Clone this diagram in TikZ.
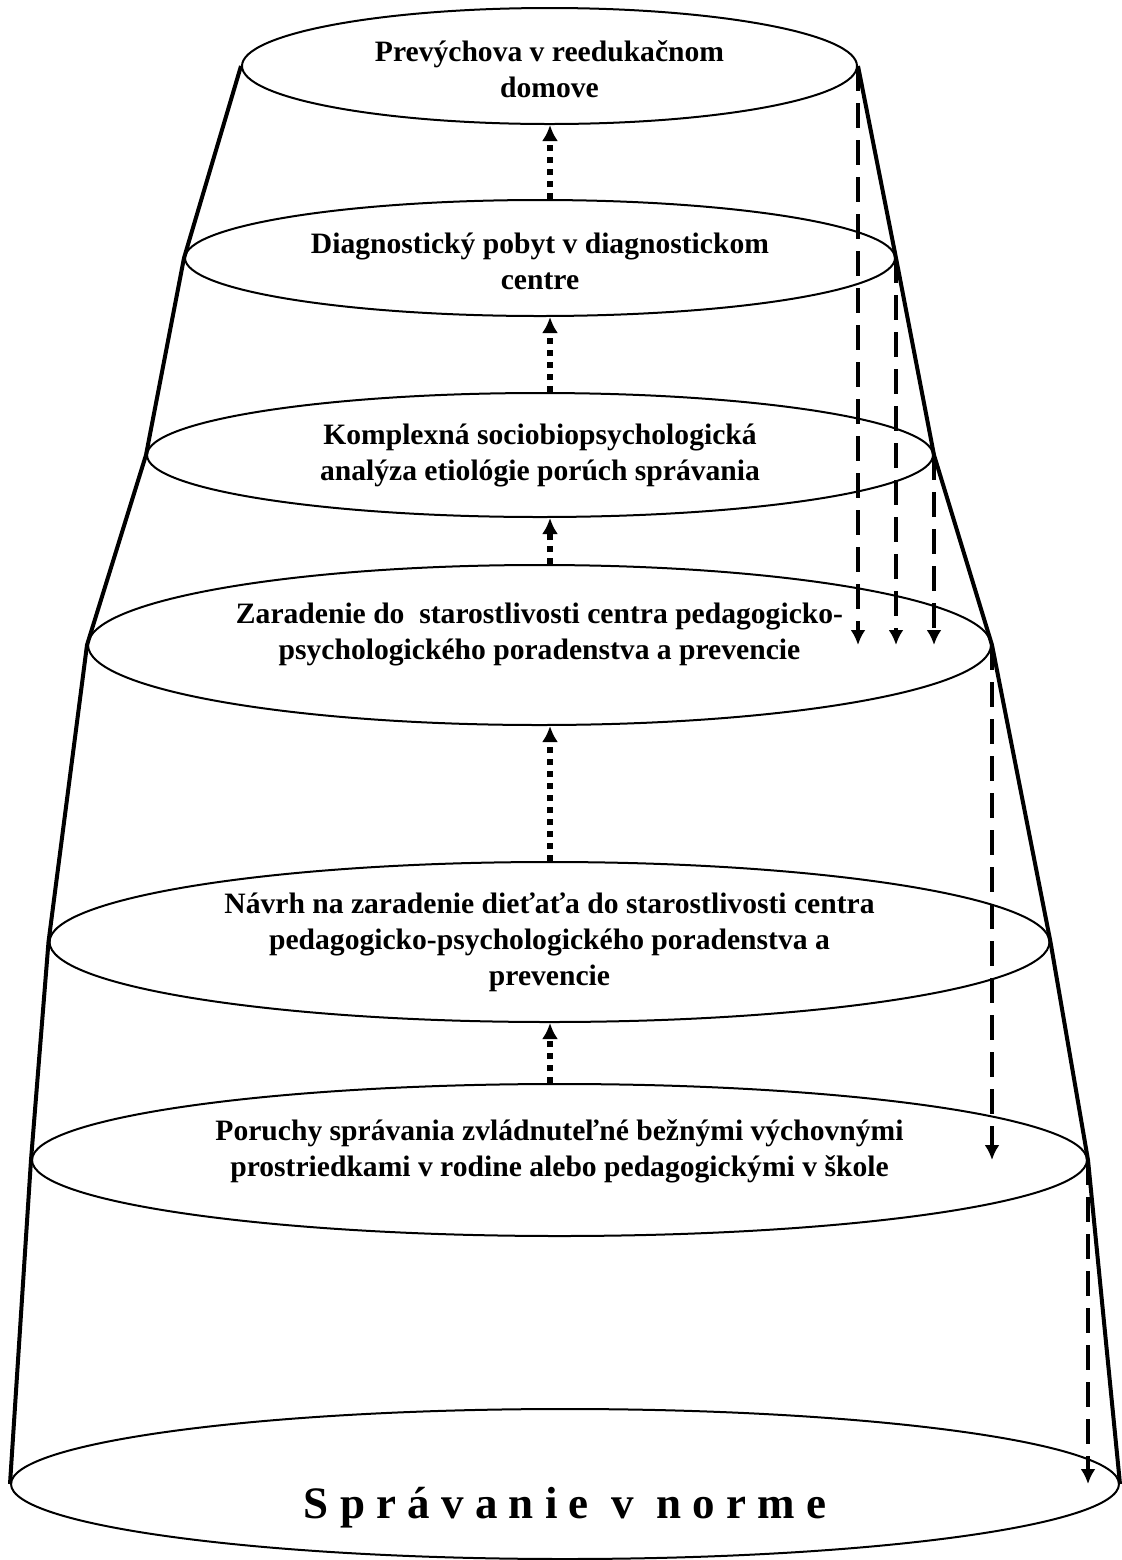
\documentclass[tikz,border=0pt]{standalone}
\usepackage{fontspec}
\setmainfont{Liberation Serif}
\usetikzlibrary{shapes.geometric, arrows.meta}

\begin{document}
\begin{tikzpicture}[x=0.5pt, y=-0.5pt,
    level/.style={draw, ellipse, line width=1pt, inner sep=0pt},
    caption/.style={align=center, font=\fontsize{14.8}{18}\selectfont\bfseries},
    side/.style={line width=2pt, line join=round},
    upline/.style={-{Latex[length=8pt,width=8pt]}, line width=3pt, dash pattern=on 3pt off 3pt},
    downline/.style={-{Latex[length=7.5pt,width=7.5pt]}, line width=2pt, dash pattern=on 12.5pt off 6pt}]
\useasboundingbox (0,0) rectangle (1122,1560);
      % levels of the cone, top to bottom
      \node[level, minimum width=307.5pt, minimum height=58pt](e1) at (549.5,66) {};
      \node[level, minimum width=355pt, minimum height=58pt](e2) at (540,258) {};
      \node[level, minimum width=393pt, minimum height=62pt](e3) at (540,455) {};
      \node[level, minimum width=451.5pt, minimum height=80pt](e4) at (539.5,645) {};
      \node[level, minimum width=500pt, minimum height=80pt](e5) at (549.5,942) {};
      \node[level, minimum width=527.5pt, minimum height=76pt](e6) at (559.5,1160) {};
      \node[level, minimum width=554pt, minimum height=75pt](e7) at (565,1484) {};
      \coordinate (axis) at (550,0);
      % texts
      \node[caption](t1) at ([yshift=-1.5pt]e1.center) {Prevýchova v reedukačnom\\domove};
      \node[caption](t2) at ([yshift=-1.5pt]e2.center) {Diagnostický pobyt v diagnostickom\\centre};
      \node[caption](t3) at (e3) {Komplexná sociobiopsychologická\\analýza etiológie porúch správania};
      \node[caption](t4) at ([yshift=5.5pt]e4.center) {Zaradenie do~ starostlivosti centra pedagogicko-\\psychologického poradenstva a prevencie};
      \node[caption](t5) at (e5) {Návrh na zaradenie dieťaťa do starostlivosti centra\\pedagogicko-psychologického poradenstva a\\prevencie};
      \node[caption](t6) at ([yshift=4.5pt]e6.center) {Poruchy správania zvládnuteľné bežnými výchovnými\\prostriedkami v rodine alebo pedagogickými v škole};
      \node[font=\fontsize{22.5}{27}\selectfont\bfseries](t7) at ([yshift=-12pt]e7.center) {S p r á v a n i e \ v \ n o r m e};
      % sides
      \draw[side] (e1.west) -- (e2.west) -- (e3.west) -- (e4.west) -- (e5.west) -- (e6.west) -- (e7.west);
      \draw[side] (e1.east) -- (e2.east) -- (e3.east) -- (e4.east) -- (e5.east) -- (e6.east) -- (e7.east);
      % dotted arrows up
      \draw[upline] (axis |- e2.north) -- (axis |- e1.south);
      \draw[upline] (axis |- e3.north) -- (axis |- e2.south);
      \draw[upline] (axis |- e4.north) -- (axis |- e3.south);
      \draw[upline] (axis |- e5.north) -- (axis |- e4.south);
      \draw[upline] (axis |- e6.north) -- (axis |- e5.south);
      % dashed arrows down
      \draw[downline] (e1.east) -- (e1.east |- e4.center);
      \draw[downline] (e2.east) -- (e2.east |- e4.center);
      \draw[downline] (e3.east) -- (e3.east |- e4.center);
      \draw[downline] (e4.east) -- (e4.east |- e6.center);
      \draw[downline] (e6.east) -- (e6.east |- e7.center);
\end{tikzpicture}
\end{document}
